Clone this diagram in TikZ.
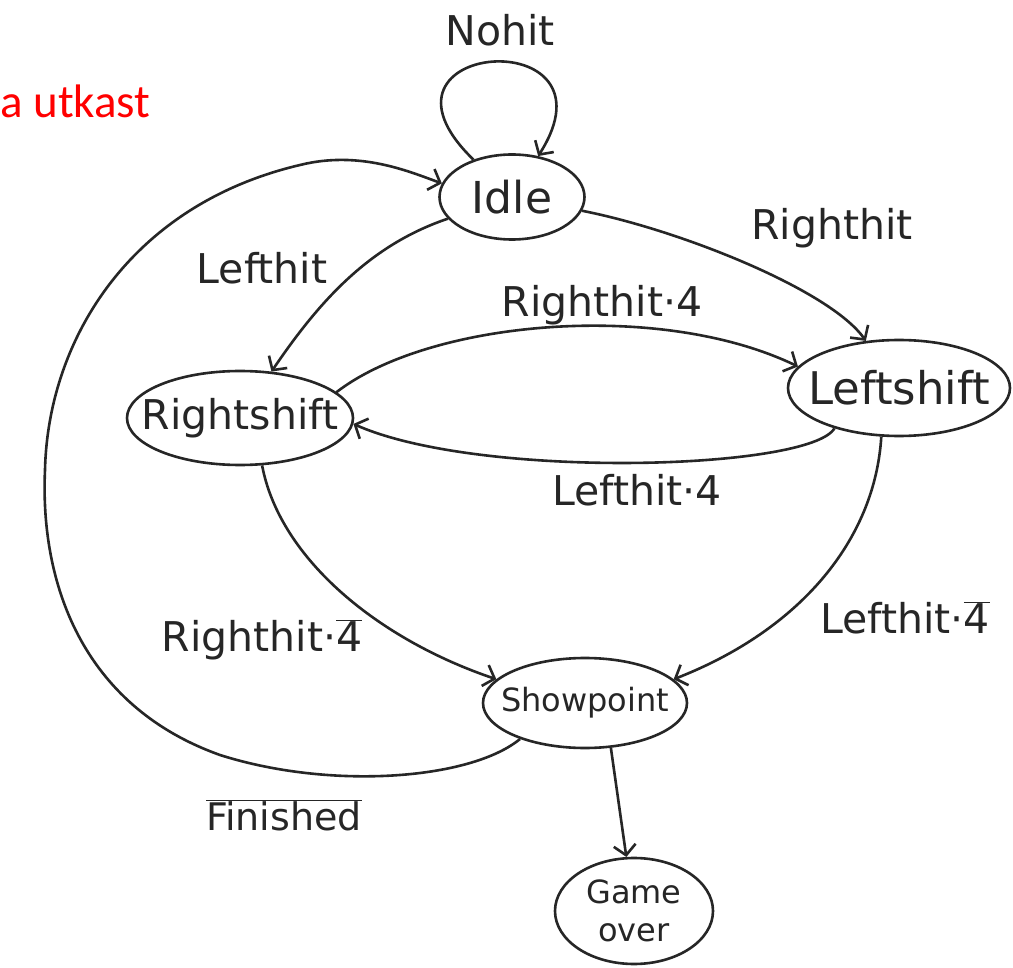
\documentclass[tikz,border=0pt]{standalone}
\usepackage{fontspec}
\setmainfont{DejaVu Sans}
\newfontfamily\redfont{Carlito}
\usetikzlibrary{shapes.geometric,arrows.meta}
\definecolor{ink}{HTML}{262626}
\begin{document}
\begin{tikzpicture}[x=1pt,y=1pt]
\tikzset{
  stnode/.style={draw=ink, line width=2.6pt, ellipse, inner sep=0pt},
  lbl/.style={font=\fontsize{41}{44}\selectfont, text=ink, inner sep=0pt},
  conn/.style={draw=ink, line width=2.6pt, -{Straight Barb[length=10pt,width=22pt]}}
}
\useasboundingbox (0,0) rectangle (1013,-968);
\fill[white] (0,0) rectangle (1013,-968);

\node[anchor=base west, inner sep=0pt, text=red, font=\redfont\fontsize{47}{50}\selectfont] (title) at (0,-118) {a utkast};

% states
\node[stnode, minimum width=145pt, minimum height=85pt,
  label={[lbl,font=\fontsize{44}{46}\selectfont]center:Idle}] (idle) at (512,-197) {};
\node[stnode, minimum width=226pt, minimum height=94pt,
  label={[lbl,font=\fontsize{41}{44}\selectfont]center:Rightshift}] (rs) at (240,-418) {};
\node[stnode, minimum width=222pt, minimum height=96pt,
  label={[lbl,font=\fontsize{45}{48}\selectfont]center:Leftshift}] (ls) at (899,-388) {};
\node[stnode, minimum width=204pt, minimum height=90pt,
  label={[lbl,font=\fontsize{32}{34}\selectfont]center:Showpoint}] (sp) at (585,-703) {};
\node[stnode, minimum width=158pt, minimum height=106pt,
  label={[lbl,align=center,font=\fontsize{32}{38}\selectfont]center:Game\\over}] (go) at (634,-911) {};

% edge labels
\node[lbl] (lnohit) at (500,-30) {Nohit};
\node[lbl] (llh) at (262,-268) {Lefthit};
\node[lbl] (lrh) at (832,-228) {Righthit};
\node[lbl] (lrhy) at (602,-305) {Righthit·4};
\node[lbl] (llhy) at (637,-490) {Lefthit·4};
\node[lbl] (lrhny) at (262,-640) {Righthit·$\overline{\mbox{4}}$};
\node[lbl] (llhny) at (905,-618) {Lefthit·$\overline{\mbox{4}}$};
\node[lbl,font=\fontsize{38}{40}\selectfont] (lfin) at (284,-815) {$\overline{\mbox{Finished}}$};

% connectors
\draw[conn] (idle) .. controls (350,-40) and (625,-20) .. (idle);
\draw[conn] (idle) .. controls (370,-245) and (320,-300) .. (rs);
\draw[conn] (idle) .. controls (680,-230) and (830,-290) .. (ls);
\draw[conn] (rs.15) .. controls (430,-320) and (660,-300) .. (ls.168);
\draw[conn] (ls.212) .. controls (810,-470) and (480,-480) .. (rs.-3);
\draw[conn] (rs.-65) .. controls (280,-560) and (380,-640) .. (sp.165);
\draw[conn] (ls.250) .. controls (875,-540) and (800,-630) .. (sp.15);
\draw[conn] (sp.209) .. controls (470,-780) and (330,-790) .. (220,-755)
  .. controls (80,-705) and (40,-580) .. (45,-470)
  .. controls (48,-340) and (130,-205) .. (300,-165)
  .. controls (360,-150) and (410,-172) .. (idle.169);
\draw[conn] (sp.-60) -- (go);
\end{tikzpicture}
\end{document}
